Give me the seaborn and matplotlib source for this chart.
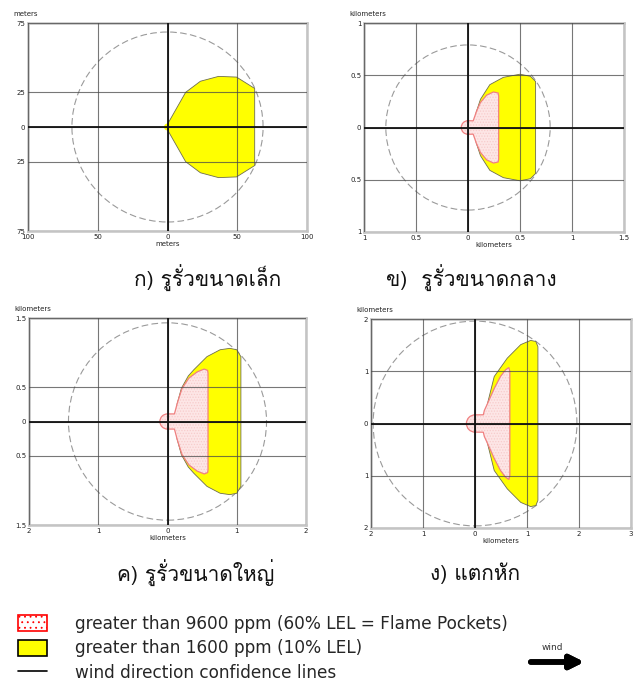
import matplotlib
matplotlib.use("Agg")
import matplotlib.pyplot as plt
import seaborn as sns
from matplotlib import font_manager
from matplotlib.ft2font import FT2Font
from matplotlib.patches import Patch, Circle, Arc
from matplotlib.lines import Line2D

# panel captions and units
titles = ["ก) รูรั่วขนาดเล็ก", "ข)  รูรั่วขนาดกลาง", "ค) รูรั่วขนาดใหญ่", "ง) แตกหัก"]
units = ["meters", "kilometers", "kilometers", "kilometers"]

# tick values per panel (labels shown as absolute values)
xticks = [[-100, -50, 0, 50, 100], [-1, -0.5, 0, 0.5, 1, 1.5],
          [-2, -1, 0, 1, 2], [-2, -1, 0, 1, 2, 3]]
yticks = [[-75, -25, 0, 25, 75], [-1, -0.5, 0, 0.5, 1],
          [-1.5, -0.5, 0, 0.5, 1.5], [-2, -1, 0, 1, 2]]

# wind direction confidence circle
conf_radius = [68.5, 0.79, 1.43, 1.96]

# > 1600 ppm zone, upper half (zones are symmetric about the wind axis)
yellow_x = [[0, 13, 23.6, 36.6, 49.5, 62.5],
            [0.05, 0.08, 0.12, 0.21, 0.34, 0.5, 0.6, 0.65],
            [0.1, 0.14, 0.2, 0.3, 0.38, 0.57, 0.76, 0.9, 1.0, 1.06],
            [0.16, 0.24, 0.3, 0.37, 0.62, 0.88, 1.07, 1.17, 1.21]]
yellow_y = [[2, 25, 33, 36.5, 36, 27.8],
            [0.0, 0.15, 0.27, 0.41, 0.48, 0.51, 0.49, 0.44],
            [0.0, 0.26, 0.48, 0.66, 0.75, 0.94, 1.04, 1.06, 1.04, 0.94],
            [0.0, 0.38, 0.62, 0.9, 1.25, 1.51, 1.59, 1.57, 1.47]]
yellow_bulb = [2.5, 0, 0, 0]

# > 9600 ppm flame pockets, upper half
pink_x = [[],
          [0.05, 0.08, 0.12, 0.18, 0.245, 0.29, 0.295],
          [0.1, 0.14, 0.21, 0.31, 0.43, 0.53, 0.58, 0.585],
          [0.16, 0.18, 0.24, 0.37, 0.49, 0.59, 0.65, 0.67]]
pink_y = [[],
          [0.064, 0.15, 0.24, 0.31, 0.34, 0.33, 0.30],
          [0.11, 0.26, 0.48, 0.63, 0.72, 0.76, 0.74, 0.70],
          [0.167, 0.25, 0.38, 0.67, 0.9, 1.03, 1.07, 1.0]]
pink_bulb = [0, 0.065, 0.11, 0.165]

legend_labels = ["greater than 9600 ppm (60% LEL = Flame Pockets)",
                 "greater than 1600 ppm (10% LEL)",
                 "wind direction confidence lines"]

# find an installed font that has Thai glyphs
thai_font = "DejaVu Sans"
for f in font_manager.fontManager.ttflist:
    try:
        if FT2Font(f.fname).get_char_index(0x0E01):
            thai_font = f.name
            break
    except Exception:
        pass

sns.set_theme(style="white")
plt.rcParams["font.family"] = ["DejaVu Sans"]
plt.rcParams["hatch.linewidth"] = 0.6

YELLOW = "#ffff00"
PINK_FACE = "#fde6e6"
PINK_HATCH = "#f7cccc"
PINK_EDGE = "#f08080"

fig = plt.figure(figsize=(6.36, 6.81), dpi=100)
W, H = 636, 681
boxes = [(28, 23, 307, 231), (364, 23, 624, 232), (29, 318, 306, 525), (371, 319, 631, 528)]
title_pos = [(208, 278), (471, 278), (196, 573), (475, 573)]

for i, (l, t, r, b) in enumerate(boxes):
    ax = fig.add_axes([l / W, 1 - b / H, (r - l) / W, (b - t) / H])
    ax.set_axisbelow(False)

    ax.add_patch(Circle((0, 0), conf_radius[i], fill=False, ec="#9a9a9a",
                        lw=0.8, ls=(0, (6, 3)), zorder=0.5))

    xs = yellow_x[i] + yellow_x[i][::-1]
    ys = yellow_y[i] + [-v for v in yellow_y[i][::-1]]
    if yellow_bulb[i]:
        ax.add_patch(Circle((0, 0), yellow_bulb[i], fc=YELLOW, lw=0, zorder=1))
    ax.fill(xs, ys, fc=YELLOW, ec="#6e6e50", lw=0.6, zorder=1)

    if pink_x[i]:
        rb = pink_bulb[i]
        px = [0] + pink_x[i] + pink_x[i][::-1] + [0]
        py = [rb] + pink_y[i] + [-v for v in pink_y[i][::-1]] + [-rb]
        ax.add_patch(Circle((0, 0), rb, fc=PINK_FACE, ec=PINK_HATCH, lw=0,
                            hatch="......", zorder=1.5))
        ax.fill(px, py, fc=PINK_FACE, ec=PINK_HATCH, lw=0, hatch="......", zorder=1.5)
        ax.add_patch(Arc((0, 0), 2 * rb, 2 * rb, theta1=90, theta2=270,
                         color=PINK_EDGE, lw=0.9, zorder=1.6))
        sns.lineplot(x=px, y=py, sort=False, estimator=None, color=PINK_EDGE,
                     lw=0.9, ax=ax, zorder=1.6)

    ax.set_xlim(xticks[i][0], xticks[i][-1])
    ax.set_ylim(yticks[i][0], yticks[i][-1])
    ax.set_xticks(xticks[i], [f"{abs(v):g}" for v in xticks[i]])
    ax.set_yticks(yticks[i], [f"{abs(v):g}" for v in yticks[i]])
    ax.tick_params(length=0, labelsize=5, pad=2, colors="#222222")
    ax.grid(True, color="#4a4a4a", lw=0.8, alpha=0.75)
    ax.axhline(0, color="#111111", lw=1.3, zorder=3)
    ax.axvline(0, color="#111111", lw=1.3, zorder=3)
    for s in ax.spines.values():
        s.set_color("#c4c4c4")
        s.set_linewidth(1.8)
    ax.set_xlabel(units[i], fontsize=5, labelpad=1, color="#222222")
    ax.set_ylabel("")
    ax.annotate(units[i], xy=(0, 1), xycoords="axes fraction", xytext=(-15, 6),
                textcoords="offset pixels", ha="left", va="bottom", fontsize=5,
                color="#222222")

    tx, ty = title_pos[i]
    fig.text(tx / W, 1 - ty / H, titles[i], ha="center", va="center", fontsize=15,
             family=[thai_font, "DejaVu Sans"], color="#111111")

handles = [Patch(fc="white", ec="red", hatch="...", lw=1.2),
           Patch(fc=YELLOW, ec="black", lw=1.2),
           Line2D([], [], color="black", lw=1.2)]
fig.legend(handles, legend_labels, loc="upper left", bbox_to_anchor=(18 / W, 1 - 615 / H),
           frameon=False, fontsize=12.2, handlelength=1.72, handleheight=1.1,
           handletextpad=1.62, labelspacing=0.38, borderpad=0, borderaxespad=0)

fig.text(552 / W, 1 - 648 / H, "wind", ha="center", va="center", fontsize=6.5, color="#333333")
fig.add_artist(plt.annotate("", xy=(587 / W, 1 - 662 / H), xytext=(528 / W, 1 - 662 / H),
                            xycoords="figure fraction", textcoords="figure fraction",
                            arrowprops=dict(arrowstyle="-|>", lw=4, color="black",
                                            mutation_scale=20)))

fig.savefig("out.png", dpi=100)
